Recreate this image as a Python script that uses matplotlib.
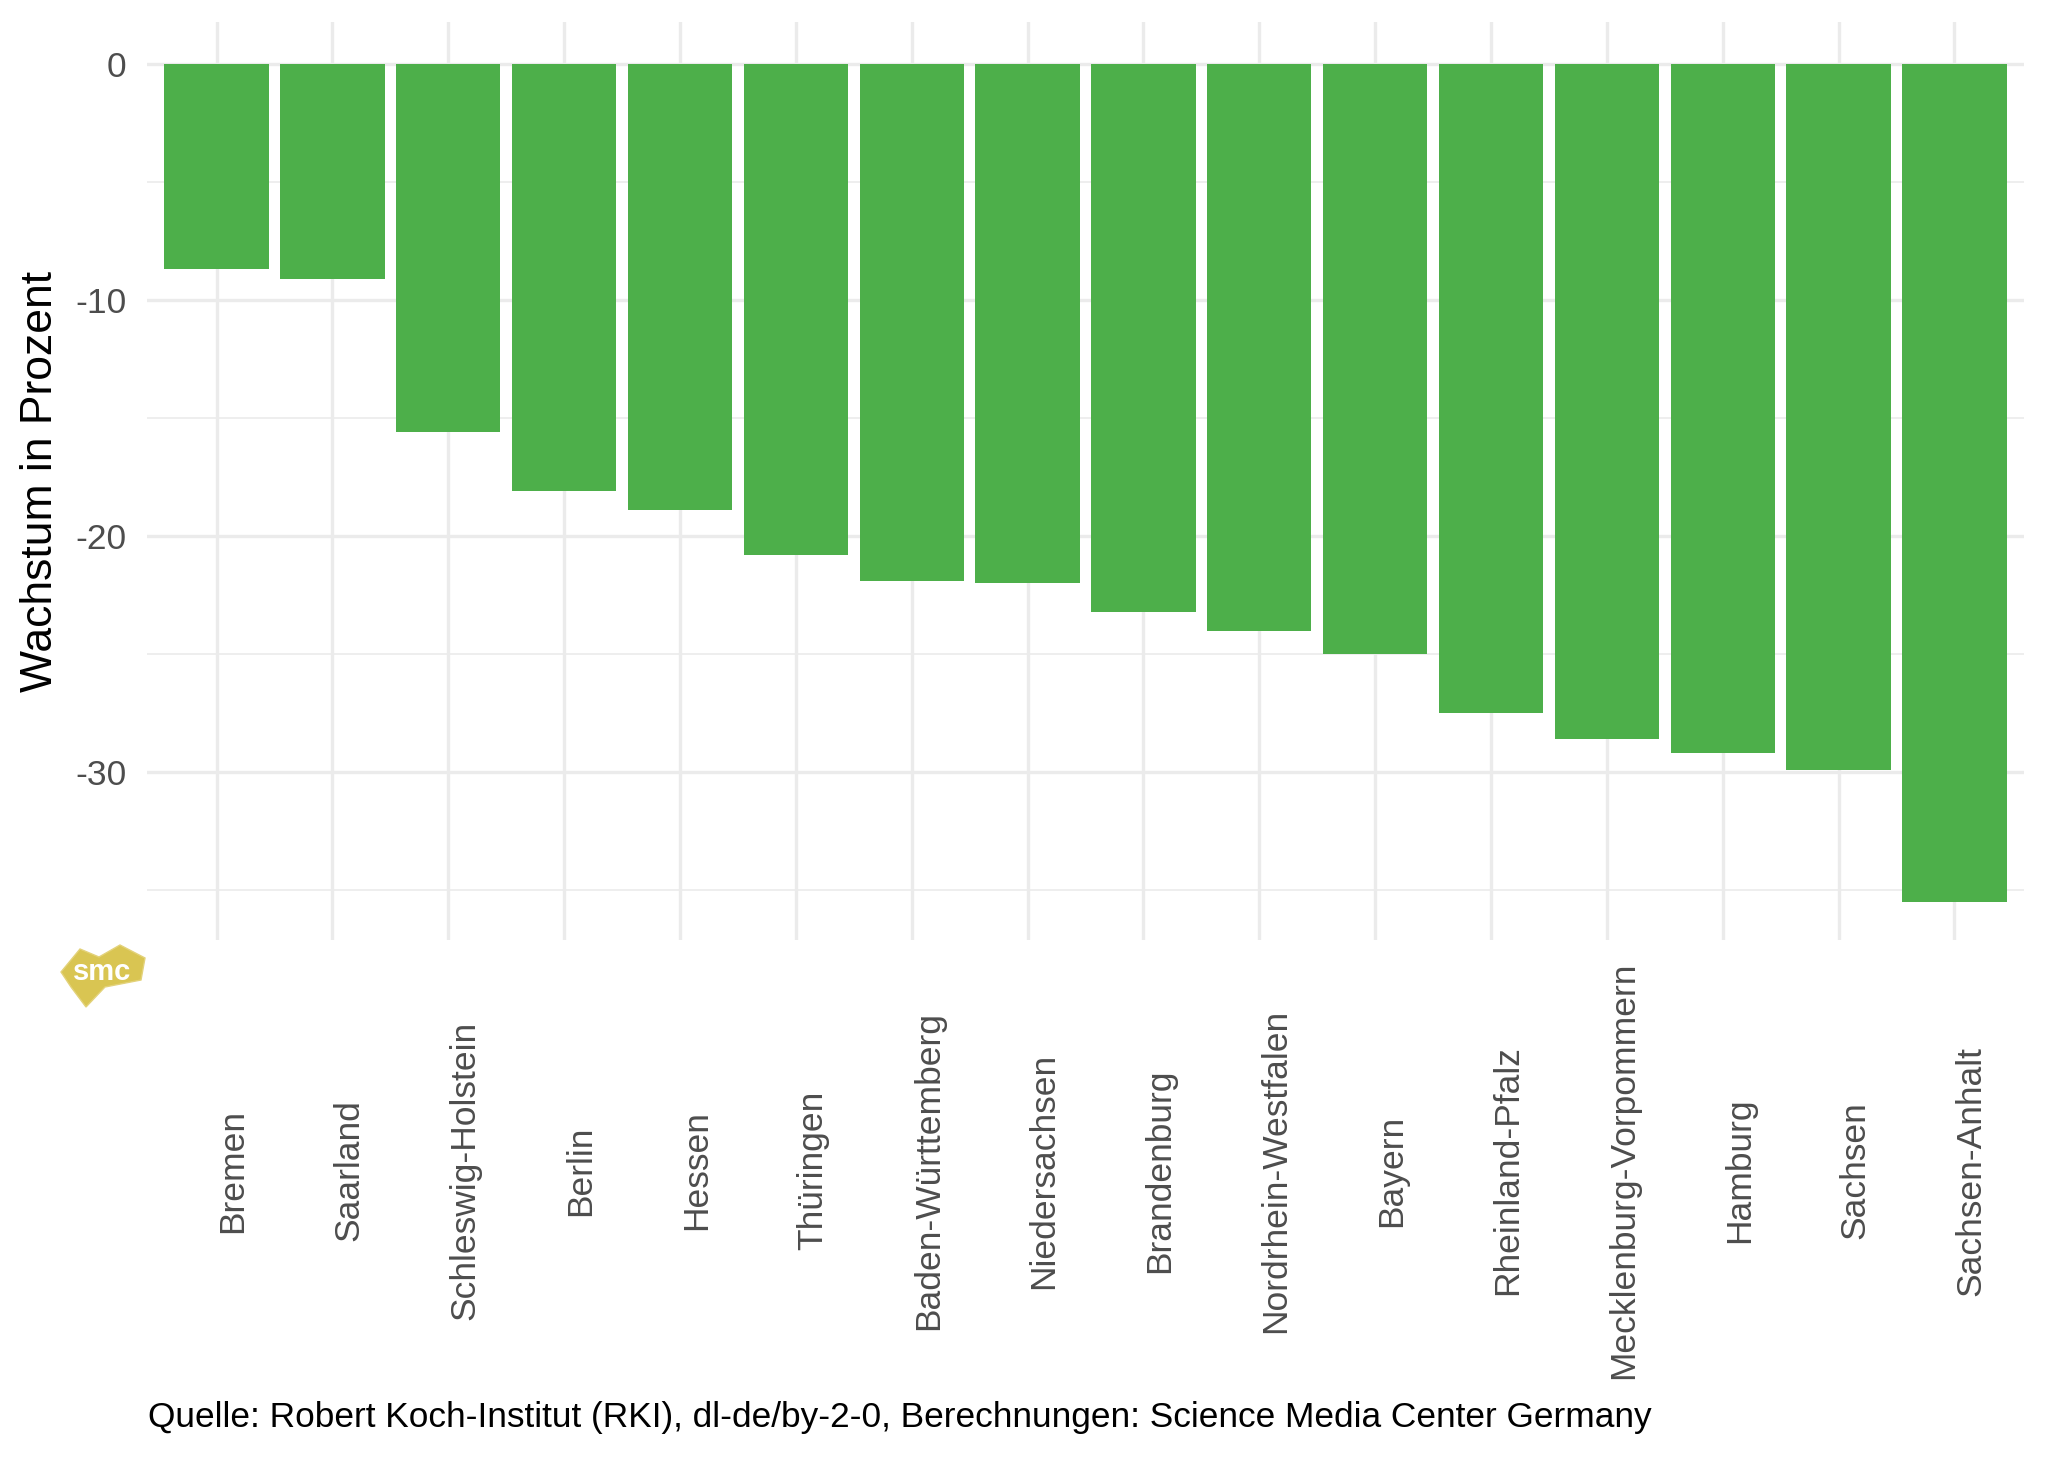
import matplotlib
matplotlib.use("Agg")
import matplotlib.pyplot as plt
from matplotlib.patches import Polygon
import numpy as np

plt.rcParams['font.family'] = ['Liberation Sans', 'DejaVu Sans']
plt.rcParams['axes.unicode_minus'] = False

states = ["Bremen", "Saarland", "Schleswig-Holstein", "Berlin", "Hessen",
          "Thüringen", "Baden-Württemberg", "Niedersachsen", "Brandenburg",
          "Nordrhein-Westfalen", "Bayern", "Rheinland-Pfalz",
          "Mecklenburg-Vorpommern", "Hamburg", "Sachsen", "Sachsen-Anhalt"]
growth = [-8.7, -9.1, -15.6, -18.1, -18.9, -20.8, -21.9, -22.0, -23.2,
          -24.0, -25.0, -27.5, -28.6, -29.2, -29.9, -35.5]
yticks = [0, -10, -20, -30]
yticks_minor = [-5, -15, -25, -35]

W, H = 2048, 1462
GREEN = "#4DAF4A"
GRID = "#EBEBEB"
TICK = "#4D4D4D"

fig = plt.figure(figsize=(W / 100, H / 100), dpi=100)
fig.patch.set_facecolor("white")

# panel in pixel coords (left, top, right, bottom)
pl, pt, pr, pb = 147, 22, 2024, 940
ax = fig.add_axes([pl / W, 1 - pb / H, (pr - pl) / W, (pb - pt) / H])

x = np.arange(len(states))
ax.bar(x, growth, width=0.9, color=GREEN, zorder=2)

hi = max(max(growth), 0)
lo = min(growth)
span = hi - lo
ax.set_ylim(lo - 0.045 * span, hi + 0.05 * span)
ax.set_xlim(-0.6, len(states) - 0.4)

ax.set_yticks(yticks)
ax.set_yticklabels([str(v) for v in yticks])
ax.set_yticks(yticks_minor, minor=True)
ax.set_xticks(x)
ax.set_xticklabels(states, rotation=90, rotation_mode="anchor",
                   ha="center", va="top")

ax.grid(True, which="major", axis="both", color=GRID, linewidth=2.4, zorder=0)
ax.grid(True, which="minor", axis="y", color=GRID, linewidth=1.2, zorder=0)
ax.set_axisbelow(True)
for s in ax.spines.values():
    s.set_visible(False)

ax.tick_params(axis="y", which="both", length=0, pad=15, labelsize=25.5, labelcolor=TICK)
ax.tick_params(axis="x", which="both", length=0, pad=166, labelsize=25.5, labelcolor=TICK)

ax.set_ylabel("Wachstum in Prozent", fontsize=32, color="black")
ax.yaxis.label.set_va("center")
ax.yaxis.set_label_coords((41 - pl) / (pr - pl), 0.5)

fig.text(148 / W, 1 - 1417 / H,
         "Quelle: Robert Koch-Institut (RKI), dl-de/by-2-0, Berechnungen: Science Media Center Germany",
         fontsize=25.4, color="black", ha="left", va="center")

# smc logo
logo_px = [(61, 972), (80, 949), (99, 957), (120, 945), (145, 958),
           (141, 980), (105, 987), (86, 1007), (71, 987)]
logo = Polygon([(px / W, 1 - py / H) for px, py in logo_px], closed=True,
               facecolor="#D9C552", edgecolor="#E3D27A", linewidth=1,
               transform=fig.transFigure)
fig.patches.append(logo)
fig.text(102 / W, 1 - 972 / H, "smc", fontsize=21, fontweight="bold",
         color="white", ha="center", va="center")

fig.savefig("out.png", dpi=100)
